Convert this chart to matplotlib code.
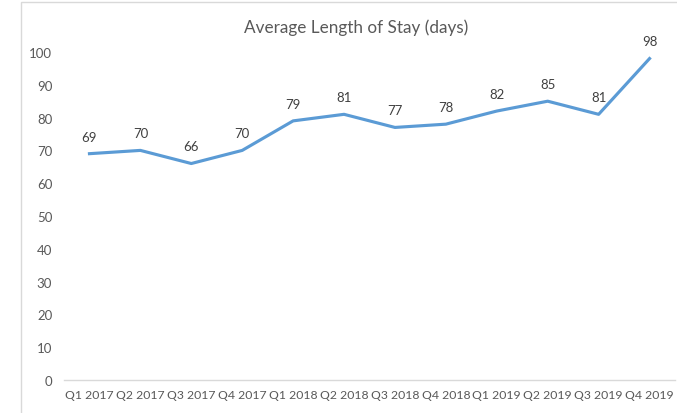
import matplotlib
matplotlib.use("Agg")
import matplotlib.pyplot as plt
from matplotlib.patches import Rectangle

categories = ["Q1 2017", "Q2 2017", "Q3 2017", "Q4 2017", "Q1 2018", "Q2 2018",
              "Q3 2018", "Q4 2018", "Q1 2019", "Q2 2019", "Q3 2019", "Q4 2019"]
values = [69, 70, 66, 70, 79, 81, 77, 78, 82, 85, 81, 98]
yticks = [0, 10, 20, 30, 40, 50, 60, 70, 80, 90, 100]
title = "Average Length of Stay (days)"

plt.rcParams['font.family'] = ['Lato', 'DejaVu Sans']
W, H = 677, 414
fig = plt.figure(figsize=(W/100, H/100), dpi=100)

# chart border
fig.patches.append(Rectangle((21/W, -0.1), 1.2, (H-3)/H + 0.1, transform=fig.transFigure,
                             fill=False, edgecolor="#d9d9d9", linewidth=1))

ax = fig.add_axes([64/W, 1-381/H, (675-64)/W, (381-53)/H])
x = list(range(len(categories)))
ax.plot(x, values, color="#5B9BD5", linewidth=2.25, solid_joinstyle="round")
for xi, v in zip(x, values):
    ax.annotate(str(v), (xi, v), xytext=(0, 8), textcoords="offset points",
                ha="center", va="bottom", fontsize=9.5, color="#404040", annotation_clip=False)

ax.set_xlim(-0.5, len(categories)-0.5)
ax.set_ylim(0, 100)
ax.set_yticks(yticks)
ax.set_xticks(x)
ax.set_xticklabels(categories)
ax.tick_params(axis="both", length=0, labelcolor="#595959")
ax.tick_params(axis="y", pad=8.5, labelsize=9.5)
ax.tick_params(axis="x", pad=6.5, labelsize=8.8)
for s in ["top", "right", "left"]:
    ax.spines[s].set_visible(False)
ax.spines["bottom"].set_color("#d9d9d9")
ax.spines["bottom"].set_linewidth(1)

fig.text(356/W, 1-28/H, title, ha="center", va="center", fontsize=12.3, color="#595959")

fig.savefig("out.png", dpi=100)
